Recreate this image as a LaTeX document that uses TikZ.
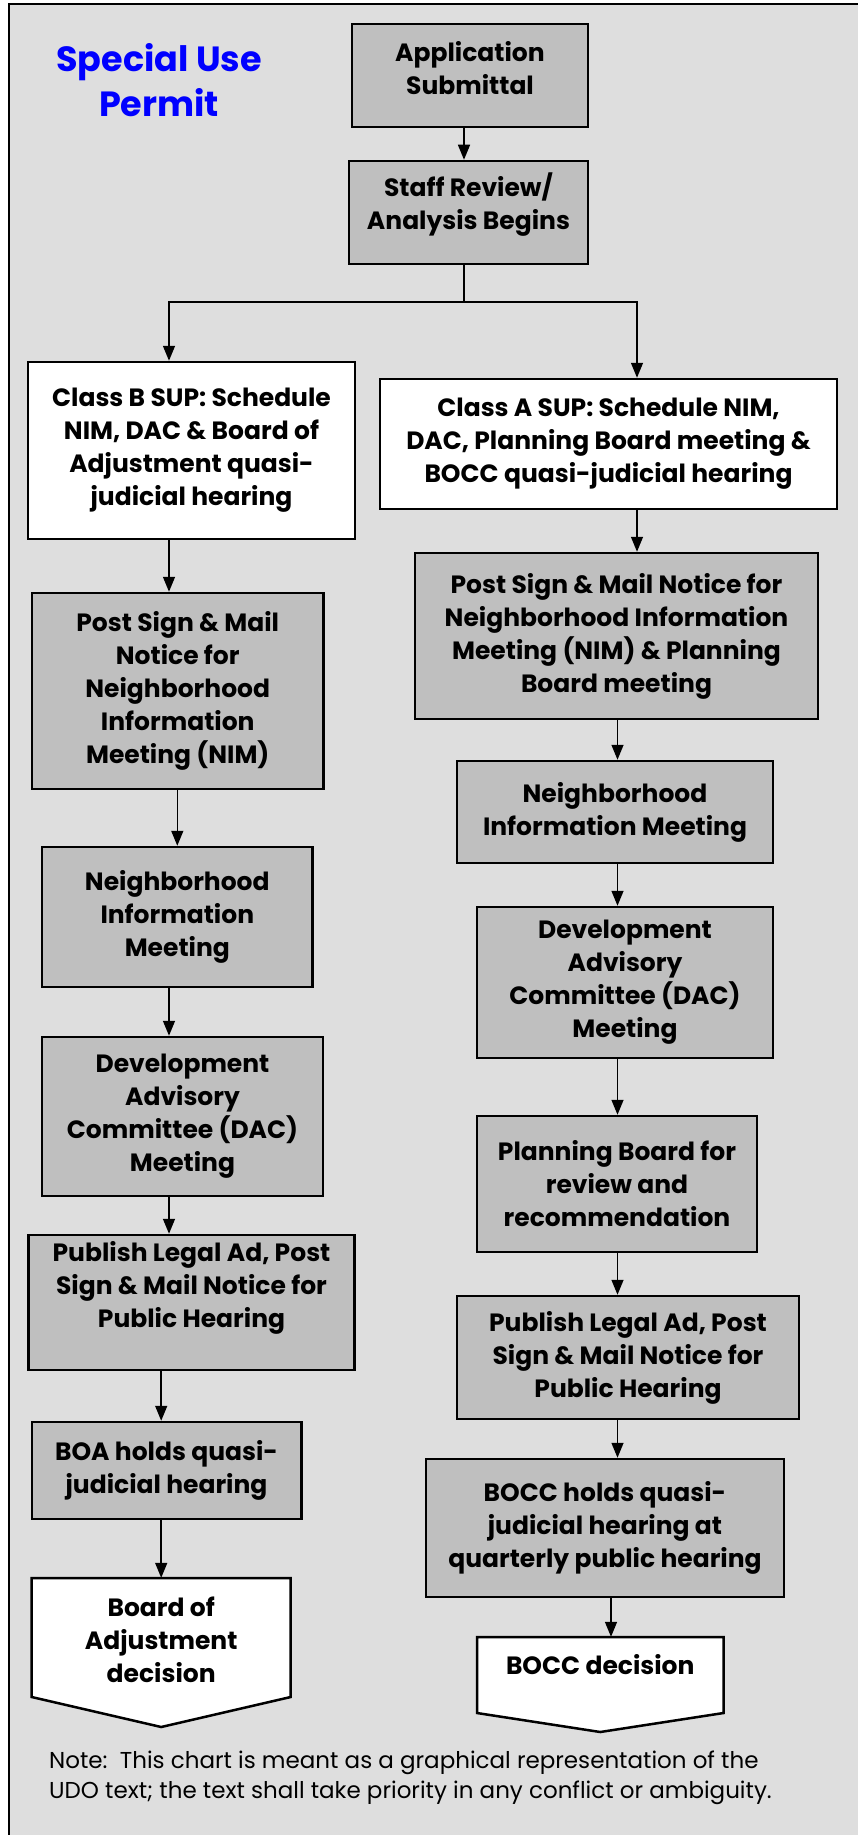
\documentclass[tikz,border=0pt]{standalone}
\usepackage{fontspec}
\setmainfont{Poppins}
\usetikzlibrary{arrows.meta,calc}
\newcommand{\boxfont}{\fontsize{25}{33}\selectfont\bfseries}
\newcommand{\titlefont}{\fontsize{35}{45}\selectfont\bfseries}
\newcommand{\notefont}{\fontsize{23}{30}\selectfont}
\tikzset{
	stepbox/.style={draw, line width=2.5pt, fill=black!25, align=center, font=\boxfont, inner sep=0pt},
	openbox/.style={stepbox, fill=white},
	endshape/.style={draw, line width=2.5pt, fill=white},
	endtext/.style={align=center, font=\boxfont, inner sep=0pt},
	flowline/.style={line width=1.5pt},
	flow/.style={flowline, -{Triangle[length=15pt,width=12pt]}},
}

\begin{document}
\begin{tikzpicture}[x=1pt, y=-1pt]
			%%%%% START %%%%%
			\useasboundingbox (0, 0) rectangle (857, 1835);
			\draw[line width=2pt, fill=black!13] (9, 4) rectangle (880, 1860);
			
			\node[font=\titlefont, text=blue, align=center] (title) at (159, 80) {Special Use\\Permit};
			
			\node[stepbox, minimum width=236pt, minimum height=103pt, text depth=16pt] (app) at (470, 75.5) {Application\\Submittal};
			\node[stepbox, minimum width=239pt, minimum height=103pt, text depth=22pt] (staff) at (468.5, 212.5) {Staff Review/\\Analysis Begins};
			
			\coordinate (split) at (464, 302);
			\coordinate (colb) at (169, 0);
			\coordinate (cola) at (617.5, 0);
			\coordinate (colc) at (637, 0);
			\coordinate (cold) at (611, 0);
			
			% left column: class B
			\node[openbox, minimum width=327pt, minimum height=177pt] (classb) at (191.5, 450.5) {Class B SUP: Schedule\\NIM, DAC \& Board of\\Adjustment quasi-\\judicial hearing};
			\node[stepbox, minimum width=291.5pt, minimum height=196pt] (postb) at (177.75, 691) {Post Sign \& Mail\\Notice for\\Neighborhood\\Information\\Meeting (NIM)};
			\node[stepbox, minimum width=270.6pt, minimum height=140pt] (nimb) at (177.3, 917) {Neighborhood\\Information\\Meeting};
			\node[stepbox, minimum width=281pt, minimum height=159pt] (dacb) at (182.5, 1116.5) {Development\\Advisory\\Committee (DAC)\\Meeting};
			\node[stepbox, minimum width=326pt, minimum height=135pt, text depth=36pt] (pubb) at (191.5, 1302.5) {Publish Legal Ad, Post\\Sign \& Mail Notice for\\Public Hearing};
			\node[stepbox, minimum width=269.5pt, minimum height=97pt] (boa) at (166.5, 1470.5) {BOA holds quasi-\\judicial hearing};
			\draw[endshape] (31.7, 1578) -- (290.7, 1578) -- (290.7, 1697) -- (161.2, 1727) -- (31.7, 1697) -- cycle;
			\node[endtext, minimum height=124pt] (boad) at (161.2, 1640) {Board of\\Adjustment\\decision};
			
			% right column: class A
			\node[openbox, minimum width=457pt, minimum height=130pt] (classa) at (608.5, 444) {Class A SUP: Schedule NIM,\\DAC, Planning Board meeting \&\\BOCC quasi-judicial hearing};
			\node[stepbox, minimum width=403pt, minimum height=166pt] (postr) at (616.5, 636) {Post Sign \& Mail Notice for\\Neighborhood Information\\Meeting (NIM) \& Planning\\Board meeting};
			\node[stepbox, minimum width=316pt, minimum height=102pt] (nimr) at (615, 812) {Neighborhood\\Information Meeting};
			\node[stepbox, minimum width=296pt, minimum height=151pt] (dacr) at (625, 982.5) {Development\\Advisory\\Committee (DAC)\\Meeting};
			\node[stepbox, minimum width=280pt, minimum height=136pt] (plan) at (617, 1184) {Planning Board for\\review and\\recommendation};
			\node[stepbox, minimum width=342pt, minimum height=123pt] (pubr) at (628, 1357.5) {Publish Legal Ad, Post\\Sign \& Mail Notice for\\Public Hearing};
			\node[stepbox, minimum width=358pt, minimum height=138pt] (bocch) at (605, 1528) {BOCC holds quasi-\\judicial hearing at\\quarterly public hearing};
			\draw[endshape] (477, 1637) -- (723.5, 1637) -- (723.5, 1713) -- (600.25, 1732) -- (477, 1713) -- cycle;
			\node[endtext, minimum height=56pt] (boccd) at (600.25, 1665) {BOCC decision};
			
			% connectors
			\draw[flow] (app.south -| split) -- (staff.north -| split);
			\draw[flowline] (staff.south -| split) -- (split);
			\draw[flow] (split) -| (classb.north -| colb);
			\draw[flow] (split) -| (classa.north -| colc);
			
			\draw[flow] (classb.south -| colb) -- (postb.north -| colb);
			\draw[flow] (postb.south -| nimb.north) -- (nimb.north);
			\draw[flow] (nimb.south -| colb) -- (dacb.north -| colb);
			\draw[flow] (dacb.south -| colb) -- (pubb.north -| colb);
			\draw[flow] (pubb.south -| boad.north) -- (boa.north -| boad.north);
			\draw[flow] (boa.south -| boad.north) -- (boad.north);
			
			\draw[flow] (classa.south -| colc) -- (postr.north -| colc);
			\draw[flow] (postr.south -| cola) -- (nimr.north -| cola);
			\draw[flow] (nimr.south -| cola) -- (dacr.north -| cola);
			\draw[flow] (dacr.south -| cola) -- (plan.north -| cola);
			\draw[flow] (plan.south -| cola) -- (pubr.north -| cola);
			\draw[flow] (pubr.south -| cola) -- (bocch.north -| cola);
			\draw[flow] (bocch.south -| cold) -- (boccd.north -| cold);
			
			\node[font=\notefont, align=left, anchor=west, inner sep=0pt] (note) at (49, 1778) {Note:\ \ This chart is meant as a graphical representation of the\\UDO text; the text shall take priority in any conflict or ambiguity.};
			%%%%% END %%%%%
\end{tikzpicture}
\end{document}
